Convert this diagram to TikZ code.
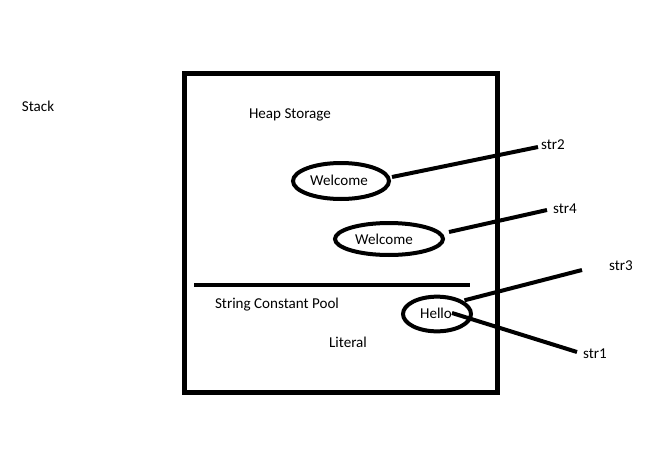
\documentclass[tikz,border=0pt]{standalone}
\usepackage{fontspec}
\setmainfont{Carlito}
\usetikzlibrary{shapes.geometric}
\begin{document}
\begin{tikzpicture}[x=0.75pt,y=-0.75pt,
  lbl/.style={font=\fontsize{11.3}{13}\selectfont, inner sep=0pt},
  blob/.style={draw, ellipse, line width=3pt, inner sep=0pt},
  wire/.style={line width=3pt},
  frame/.style={line width=3.75pt}]
\useasboundingbox (0,0) rectangle (654,457);
\draw[frame] (184,73) rectangle (497,392);
\coordinate (divL) at (194,285);
\coordinate (divR) at (470,285);
\draw[wire] (divL) -- (divR);
\node[lbl] (stack) at (38,106) {Stack};
\node[lbl] (heap) at (290,115) {Heap Storage};
\node[lbl] (pool) at (277,305) {String Constant Pool};
\node[lbl] (lit) at (348,342) {Literal};
\node[blob, minimum width=72pt, minimum height=27pt] (w1) at (341,181) {};
\node[lbl] (w1t) at (339,180) {Welcome};
\node[blob, minimum width=81pt, minimum height=24pt] (w2) at (389,239) {};
\node[lbl] (w2t) at (384,239) {Welcome};
\node[blob, minimum width=51pt, minimum height=26pt] (h) at (437,314) {};
\node[lbl] (ht) at (436,313) {Hello};
\node[lbl] (s2) at (553,145) {str2};
\node[lbl] (s4) at (565,209) {str4};
\node[lbl] (s3) at (621,266) {str3};
\node[lbl] (s1) at (595,354) {str1};
\coordinate (e2) at (538,147);
\coordinate (e4) at (547,210);
\coordinate (e3) at (582,270);
\coordinate (e1) at (577,352);
\coordinate (hin) at (452,313);
\draw[wire] (w1.east) ++(1,-4) -- (e2);
\draw[wire] (w2.east) ++(4,-7) -- (e4);
\draw[wire] (h.north east) ++(2,0) -- (e3);
\draw[wire] (hin) -- (e1);
\end{tikzpicture}
\end{document}
